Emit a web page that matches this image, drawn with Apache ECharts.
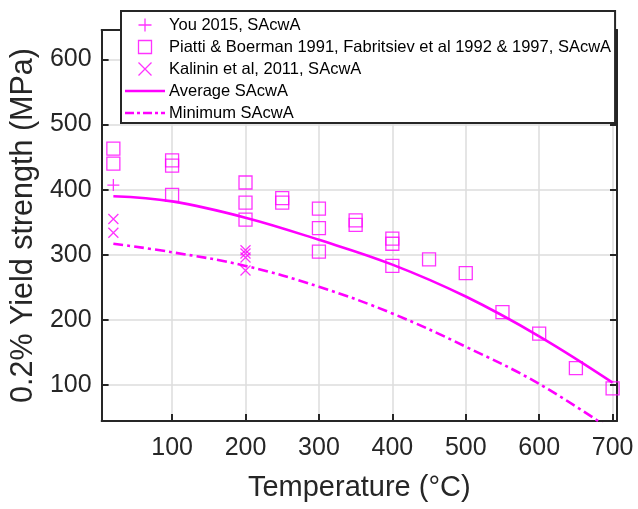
<!DOCTYPE html>
<html>
<head>
<meta charset="utf-8">
<script src="https://cdn.jsdelivr.net/npm/echarts@6/dist/echarts.min.js"></script>
<style>html,body{margin:0;padding:0;background:#fff}#c{width:638px;height:509px}</style>
</head>
<body>
<div id="c"></div>
<script>
// ---- data ----
const xTicks = [100, 200, 300, 400, 500, 600, 700];
const yTicks = [100, 200, 300, 400, 500, 600];

const youT = [20];
const youVal = [407];

const piattiT = [20, 20, 100, 100, 100, 200, 200, 200, 250, 250, 300, 300, 300, 350, 350, 400, 400, 400, 450, 500, 550, 600, 650, 700];
const piattiVal = [463, 440, 445, 437, 392, 411, 380, 354, 387, 380, 371, 341, 305, 353, 346, 325, 317, 283, 293, 272, 212, 179, 126, 95];

const kalininT = [20, 20, 200, 200, 200, 200];
const kalininVal = [355, 334, 307, 302, 296, 276];

const avgT = [20, 100, 200, 300, 400, 500, 600, 700];
const avgVal = [390, 382, 357, 323, 285, 236, 175, 104];

const minT = [20, 100, 200, 300, 400, 500, 600, 700];
const minVal = [317, 304, 283, 251, 210, 159, 102, 30];

const seriesNames = [
  'You 2015, SAcwA',
  'Piatti & Boerman 1991, Fabritsiev et al 1992 & 1997, SAcwA',
  'Kalinin et al, 2011, SAcwA',
  'Average SAcwA',
  'Minimum SAcwA'
];

// ---- chart ----
const pair = (xs, ys) => xs.map((x, i) => [x, ys[i]]);
const MAG = '#ff00ff';
const AX = '#262626';
const FONT = 'Liberation Sans, Arial, sans-serif';
const plusPath = 'path://M5,0 L5,10 M0,5 L10,5';
const crossPath = 'path://M0,0 L10,10 M10,0 L0,10';
const squarePath = 'path://M0,0 L10,0 L10,10 L0,10 Z';
const solidIcon = 'path://M0,0 L40,0 L40,2.6 L0,2.6 Z';
const dashDotIcon = 'path://M0,0 h9 v2.6 h-9 Z M12,0 h3 v2.6 h-3 Z M18,0 h9 v2.6 h-9 Z M30,0 h3 v2.6 h-3 Z M36,0 h4 v2.6 h-4 Z';
const markerStyle = { color: 'rgba(0,0,0,0)', borderColor: MAG, borderWidth: 1.3 };

const chart = echarts.init(document.getElementById('c'), null, { renderer: 'canvas' });

const baseX = {
  type: 'value', min: 4, max: 706,
  axisLine: { show: true, onZero: false, lineStyle: { color: AX, width: 2 } },
  axisTick: { show: true, inside: true, length: 7, customValues: xTicks, lineStyle: { color: AX, width: 2 } },
  splitLine: { show: false }
};
const baseY = {
  type: 'value', min: 45, max: 645,
  axisLine: { show: true, onZero: false, lineStyle: { color: AX, width: 2 } },
  axisTick: { show: true, inside: true, length: 7, customValues: yTicks, lineStyle: { color: AX, width: 2 } },
  splitLine: { show: false }
};

chart.setOption({
  animation: false,
  backgroundColor: '#fff',
  grid: { left: 101, top: 30, right: 21, bottom: 88, containLabel: false },
  legend: {
    orient: 'vertical',
    left: 121, top: 11,
    padding: [5, 4, 1, 4],
    itemWidth: 40, itemHeight: 13, itemGap: 4,
    backgroundColor: '#fff',
    borderColor: AX, borderWidth: 2,
    symbolKeepAspect: true,
    textStyle: { fontFamily: FONT, fontSize: 16.5, lineHeight: 18, color: '#000', padding: [0, 0, 0, -1] },
    data: [
      { name: seriesNames[0], icon: plusPath, itemStyle: { color: 'rgba(0,0,0,0)', borderColor: MAG, borderWidth: 1.3 } },
      { name: seriesNames[1], icon: squarePath, itemStyle: { color: 'rgba(0,0,0,0)', borderColor: MAG, borderWidth: 1.3 } },
      { name: seriesNames[2], icon: crossPath, itemStyle: { color: 'rgba(0,0,0,0)', borderColor: MAG, borderWidth: 1.3 } },
      { name: seriesNames[3], icon: solidIcon, itemStyle: { color: MAG, borderWidth: 0 } },
      { name: seriesNames[4], icon: dashDotIcon, itemStyle: { color: MAG, borderWidth: 0 } }
    ]
  },
  xAxis: [
    Object.assign({}, baseX, {
      position: 'bottom',
      name: 'Temperature (°C)', nameLocation: 'middle', nameGap: 52,
      nameTextStyle: { fontFamily: FONT, fontSize: 29, color: AX },
      axisLabel: { show: true, customValues: xTicks, margin: 15, fontFamily: FONT, fontSize: 25, color: AX },
      splitLine: { show: true, lineStyle: { color: '#dcdcdc', width: 1.5 } }
    }),
    Object.assign({}, baseX, { position: 'top', axisLabel: { show: false } })
  ],
  yAxis: [
    Object.assign({}, baseY, {
      position: 'left',
      name: '0.2% Yield strength (MPa)', nameLocation: 'middle', nameGap: 56,
      nameTextStyle: { fontFamily: FONT, fontSize: 30.5, color: AX },
      axisLabel: { show: true, customValues: yTicks, margin: 10, fontFamily: FONT, fontSize: 25, color: AX },
      splitLine: { show: true, lineStyle: { color: '#dcdcdc', width: 1.5 } }
    }),
    Object.assign({}, baseY, { position: 'right', axisLabel: { show: false } })
  ],
  series: [
    {
      name: seriesNames[0], type: 'scatter', data: pair(youT, youVal),
      symbol: plusPath, symbolSize: 12, itemStyle: markerStyle, z: 3
    },
    {
      name: seriesNames[1], type: 'scatter', data: pair(piattiT, piattiVal),
      symbol: 'rect', symbolSize: 13, itemStyle: markerStyle, z: 3
    },
    {
      name: seriesNames[2], type: 'scatter', data: pair(kalininT, kalininVal),
      symbol: crossPath, symbolSize: 10, itemStyle: markerStyle, z: 3
    },
    {
      name: seriesNames[3], type: 'line', data: pair(avgT, avgVal),
      smooth: 0.4, showSymbol: false, symbol: 'none',
      itemStyle: { color: MAG },
      lineStyle: { color: MAG, width: 2.6 }, z: 2
    },
    {
      name: seriesNames[4], type: 'line', data: pair(minT, minVal),
      smooth: 0.4, showSymbol: false, symbol: 'none', clip: true,
      itemStyle: { color: MAG },
      lineStyle: { color: MAG, width: 2.6, type: [10, 4, 3, 4] }, z: 2
    }
  ]
});
</script>
</body>
</html>
